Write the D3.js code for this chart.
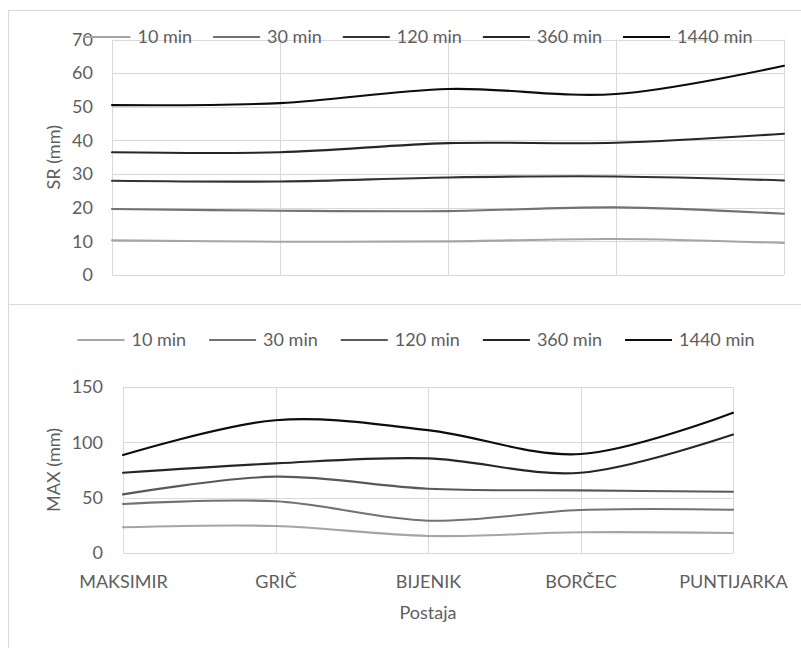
<!DOCTYPE html>
<html>
<head>
<meta charset="utf-8">
<script src="https://cdn.jsdelivr.net/npm/d3@7.9.0/dist/d3.min.js"></script>
<style>
  body { margin: 0; background: #fff; }
  svg { display: block; }
  text { font-family: Lato, "Open Sans", sans-serif; font-size: 18px; fill: #5e5e5e; }
</style>
</head>
<body>
<svg width="801" height="648"></svg>
<script>
// stations along the x axis
const stations = ['MAKSIMIR', 'GRIČ', 'BIJENIK', 'BORČEC', 'PUNTIJARKA'];
const durations = ['10 min', '30 min', '120 min', '360 min', '1440 min'];

// SR (mm) - top chart
const sr10 = [10.3, 9.9, 10.0, 10.7, 9.5];
const sr30 = [19.6, 19.1, 19.0, 20.1, 18.2];
const sr120 = [28.0, 27.8, 29.0, 29.3, 28.1];
const sr360 = [36.5, 36.5, 39.2, 39.3, 42.0];
const sr1440 = [50.5, 51.1, 55.3, 53.8, 62.2];

// MAX (mm) - bottom chart
const max10 = [23.2, 24.4, 15.4, 18.7, 18.1];
const max30 = [44.3, 46.7, 29.2, 38.8, 39.1];
const max120 = [53.0, 69.0, 58.1, 56.6, 55.4];
const max360 = [72.5, 81.0, 85.5, 72.5, 107.0];
const max1440 = [88.5, 120.0, 111.0, 89.4, 126.7];

const srTicks = [0, 10, 20, 30, 40, 50, 60, 70];
const maxTicks = [0, 50, 100, 150];

const svg = d3.select('svg');

// chart frames
svg.append('rect').attr('x', 8.5).attr('y', 10.5).attr('width', 800).attr('height', 294)
  .attr('fill', 'none').attr('stroke', '#d9d9d9');
svg.append('rect').attr('x', 8.5).attr('y', 304.5).attr('width', 800).attr('height', 360)
  .attr('fill', 'none').attr('stroke', '#d9d9d9');

function drawChart(opt) {
  let x = d3.scalePoint().domain(stations).range([opt.left, opt.right]);
  let y = d3.scaleLinear().domain([0, opt.yMax]).range([opt.bottom, opt.top]);
  let g = svg.append('g');

  // horizontal gridlines
  g.selectAll('.hgrid')
    .data(opt.ticks)
    .join('line')
    .attr('x1', opt.left).attr('x2', opt.right)
    .attr('y1', (d) => Math.round(y(d)) + 0.5).attr('y2', (d) => Math.round(y(d)) + 0.5)
    .attr('stroke', '#d9d9d9').attr('stroke-width', 1);

  // vertical gridlines
  g.selectAll('.vgrid')
    .data(stations)
    .join('line')
    .attr('x1', (d) => Math.round(x(d)) + 0.5).attr('x2', (d) => Math.round(x(d)) + 0.5)
    .attr('y1', opt.top).attr('y2', opt.bottom)
    .attr('stroke', '#d9d9d9').attr('stroke-width', 1);

  // y tick labels
  let yAxis = g.append('g')
    .attr('transform', `translate(${opt.left},0)`)
    .call(d3.axisLeft(y).tickValues(opt.ticks).tickSize(0).tickPadding(opt.tickPad));
  yAxis.select('.domain').remove();
  yAxis.selectAll('text').attr('font-family', null).attr('font-size', null);

  // x tick labels
  if (opt.showX) {
    let xAxis = g.append('g')
      .attr('transform', `translate(0,${opt.bottom})`)
      .call(d3.axisBottom(x).tickSize(0));
    xAxis.select('.domain').remove();
    xAxis.selectAll('text')
      .attr('font-family', null).attr('font-size', null)
      .attr('y', 29).attr('dy', '0.35em');
    g.append('text')
      .attr('x', (opt.left + opt.right) / 2).attr('y', 619)
      .attr('text-anchor', 'middle')
      .text('Postaja');
  }

  // y title
  g.append('text')
    .attr('transform', `translate(${opt.titleX},${(opt.top + opt.bottom) / 2}) rotate(-90)`)
    .attr('text-anchor', 'middle')
    .attr('dy', '0.35em')
    .text(opt.title);

  // smoothed lines
  let line = d3.line()
    .x((d, i) => x(stations[i]))
    .y((d) => y(d))
    .curve(d3.curveCardinal.tension(0));

  opt.series.forEach((s, i) => {
    g.append('path')
      .attr('d', line(s))
      .attr('fill', 'none')
      .attr('stroke', opt.colors[i])
      .attr('stroke-width', 2.1)
      .attr('stroke-linecap', 'round');
  });

  // legend
  let leg = g.append('g');
  let cursor = 0;
  durations.forEach((name, i) => {
    let item = leg.append('g').attr('transform', `translate(${cursor},0)`);
    item.append('line')
      .attr('x1', 0).attr('x2', 47).attr('y1', 0).attr('y2', 0)
      .attr('stroke', opt.colors[i]).attr('stroke-width', 2.1);
    let t = item.append('text')
      .attr('x', 54).attr('dy', '0.35em')
      .text(name);
    cursor += 54 + t.node().getComputedTextLength() + opt.legendGap;
  });
  let legWidth = cursor - opt.legendGap;
  leg.attr('transform', `translate(${opt.legendCenter - legWidth / 2},${opt.legendY})`);
}

drawChart({
  left: 112, right: 784, top: 39.5, bottom: 275,
  yMax: 70, ticks: srTicks, tickPad: 19,
  title: 'SR (mm)', titleX: 54,
  showX: false,
  series: [sr10, sr30, sr120, sr360, sr1440],
  colors: ['#a5a5a5', '#767171', '#333333', '#262626', '#0d0d0d'],
  legendCenter: 418, legendY: 37, legendGap: 21
});

drawChart({
  left: 123, right: 733, top: 387, bottom: 553,
  yMax: 150, ticks: maxTicks, tickPad: 20,
  title: 'MAX (mm)', titleX: 54,
  showX: true,
  series: [max10, max30, max120, max360, max1440],
  colors: ['#a5a5a5', '#767171', '#595959', '#262626', '#0d0d0d'],
  legendCenter: 416, legendY: 340, legendGap: 23
});
</script>
</body>
</html>
